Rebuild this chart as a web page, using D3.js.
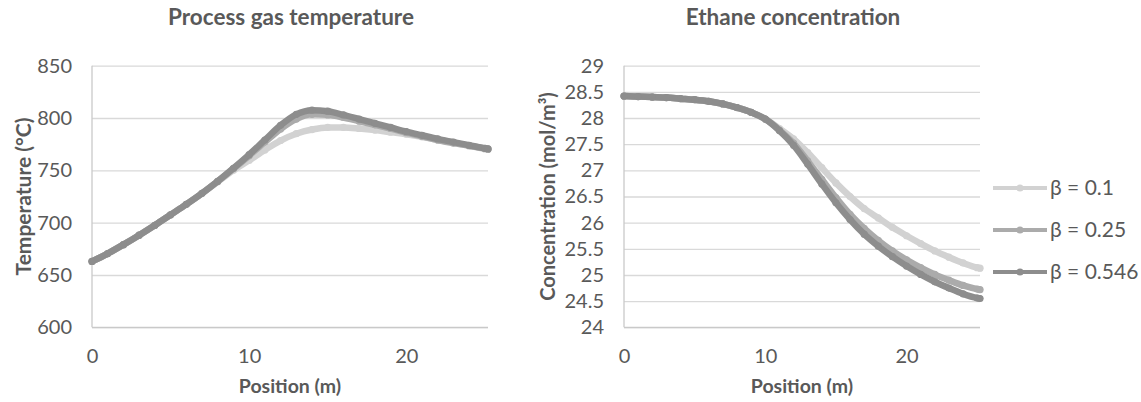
<!DOCTYPE html>
<html>
<head>
<meta charset="utf-8">
<script src="https://cdn.jsdelivr.net/npm/d3@7"></script>
<style>
  html, body { margin: 0; padding: 0; background: #ffffff; }
  svg { display: block; }
  text { font-family: Lato, "Open Sans", sans-serif; fill: #595959; }
</style>
</head>
<body>
<svg id="chart" width="1141" height="402"></svg>
<script>
// ---------- Data ----------
const seriesNames = ["β = 0.1", "β = 0.25", "β = 0.546"];
const positions = [0,1,2,3,4,5,6,7,8,9,10,11,12,13,14,15,16,17,18,19,20,21,22,23,24,25,25.2];

// Process gas temperature (°C)
const tempBeta01  = [663,670.5,679,688,697.5,707.5,717.5,728,739,750,759.5,769.5,778.5,785,789,791,791,790,788.5,786.5,784.5,782,779,776.5,773.5,770.5,770];
const tempBeta025 = [663,670.5,679,688,697.5,707.5,717.5,728,739.5,751.5,764,777,789.5,799,803.5,803,800.5,797,793.5,790,786,782.5,779,776,773.5,771,770.5];
const tempBeta0546= [663,670.5,679,688,697.5,707.5,717.5,728,739.5,752,765,779,793,803.5,807.5,806.5,803,799,795,791,787,783.5,780,777,774,771,770.5];

// Ethane concentration (mol/m³)
const concBeta01  = [28.42,28.41,28.40,28.39,28.37,28.35,28.32,28.27,28.20,28.11,27.98,27.80,27.60,27.34,27.05,26.76,26.50,26.27,26.09,25.91,25.75,25.60,25.46,25.34,25.23,25.14,25.13];
const concBeta025 = [28.42,28.41,28.40,28.39,28.37,28.35,28.32,28.27,28.20,28.11,27.98,27.77,27.52,27.18,26.83,26.48,26.16,25.89,25.66,25.46,25.29,25.14,25.01,24.90,24.80,24.73,24.72];
const concBeta0546= [28.42,28.41,28.40,28.39,28.37,28.35,28.32,28.27,28.20,28.11,27.98,27.76,27.48,27.12,26.74,26.38,26.06,25.78,25.55,25.35,25.17,25.01,24.87,24.75,24.64,24.56,24.55];

const xTicks = [0, 10, 20];
const tempTicks = [600, 650, 700, 750, 800, 850];
const concTicks = [24, 24.5, 25, 25.5, 26, 26.5, 27, 27.5, 28, 28.5, 29];

const colors = ["#d2d2d2", "#ababab", "#8d8d8d"];

// ---------- Drawing ----------
const svg = d3.select("#chart");
const FONT = "Lato, 'Open Sans', sans-serif";

function drawPanel(opts) {
  const x = d3.scaleLinear().domain([0, 25.2]).range([opts.x0, opts.x1]);
  const y = d3.scaleLinear().domain(opts.yDomain).range([327.3, 65.7]);
  const g = svg.append("g");

  // gridlines
  g.append("g")
    .attr("transform", `translate(${opts.x0},0)`)
    .call(d3.axisLeft(y).tickValues(opts.yTicks).tickSize(-(opts.x1 - opts.x0)).tickFormat(""))
    .call(s => s.select(".domain").remove())
    .call(s => s.selectAll("line").attr("stroke", "#d9d9d9").attr("stroke-width", 1.3));

  // y tick labels
  g.append("g")
    .attr("transform", `translate(${opts.x0 - 20},0)`)
    .call(d3.axisLeft(y).tickValues(opts.yTicks).tickSize(0).tickFormat(d => String(d)))
    .call(s => s.select(".domain").remove())
    .call(s => s.selectAll("text").attr("font-size", 20).attr("fill", "#595959")
      .style("font-family", FONT).attr("x", 0));

  // left axis line
  g.append("line").attr("x1", opts.x0).attr("x2", opts.x0).attr("y1", y.range()[1]).attr("y2", y.range()[0])
    .attr("stroke", "#c9c9c9").attr("stroke-width", 1.3);
  // bottom axis line
  g.append("line").attr("x1", opts.x0).attr("x2", opts.x1).attr("y1", y.range()[0]).attr("y2", y.range()[0])
    .attr("stroke", "#c9c9c9").attr("stroke-width", 1.3);

  // x tick labels
  g.append("g")
    .attr("transform", `translate(0,${y.range()[0] + 18})`)
    .call(d3.axisBottom(x).tickValues(xTicks).tickSize(0).tickFormat(d3.format("d")))
    .call(s => s.select(".domain").remove())
    .call(s => s.selectAll("text").attr("font-size", 20).attr("fill", "#595959")
      .style("font-family", FONT));

  // series
  const line = d3.line().x((d, i) => x(positions[i])).y(d => y(d)).curve(d3.curveMonotoneX);
  opts.series.forEach((vals, si) => {
    const sg = g.append("g");
    sg.append("path").datum(vals).attr("d", line)
      .attr("fill", "none").attr("stroke", colors[si]).attr("stroke-width", 6.5)
      .attr("stroke-linecap", "round").attr("stroke-linejoin", "round");
    sg.selectAll("circle").data(vals).join("circle")
      .attr("cx", (d, i) => x(positions[i])).attr("cy", d => y(d)).attr("r", 3.6)
      .attr("fill", colors[si]);
  });

  // title
  svg.append("text").attr("x", opts.titleX).attr("y", 25).attr("text-anchor", "middle")
    .attr("font-size", 22.5).attr("font-weight", "bold").text(opts.title);
  // x axis title
  svg.append("text").attr("x", (opts.x0 + opts.x1) / 2).attr("y", 393).attr("text-anchor", "middle")
    .attr("font-size", 19.5).attr("font-weight", "bold").text("Position (m)");
  // y axis title
  svg.append("text").attr("transform", `translate(${opts.yTitleX},196.5) rotate(-90)`)
    .attr("text-anchor", "middle").attr("font-size", opts.yTitleSize).attr("font-weight", "bold")
    .text(opts.yTitle);
}

drawPanel({
  x0: 92, x1: 488, yDomain: [600, 850], yTicks: tempTicks,
  series: [tempBeta01, tempBeta025, tempBeta0546],
  title: "Process gas temperature", titleX: 291,
  yTitle: "Temperature (°C)", yTitleX: 31, yTitleSize: 21
});

drawPanel({
  x0: 624, x1: 980, yDomain: [24, 29], yTicks: concTicks,
  series: [concBeta01, concBeta025, concBeta0546],
  title: "Ethane concentration", titleX: 793,
  yTitle: "Concentration (mol/m³)", yTitleX: 555, yTitleSize: 20
});

// legend
const legend = svg.append("g");
seriesNames.forEach((name, i) => {
  const ly = 188 + i * 42;
  legend.append("line").attr("x1", 993).attr("x2", 1047).attr("y1", ly).attr("y2", ly)
    .attr("stroke", colors[i]).attr("stroke-width", 4);
  legend.append("circle").attr("cx", 1020).attr("cy", ly).attr("r", 3.6).attr("fill", colors[i]);
  legend.append("text").attr("x", 1050).attr("y", ly).attr("dy", "0.35em")
    .attr("font-size", 21).text(name);
});
</script>
</body>
</html>
